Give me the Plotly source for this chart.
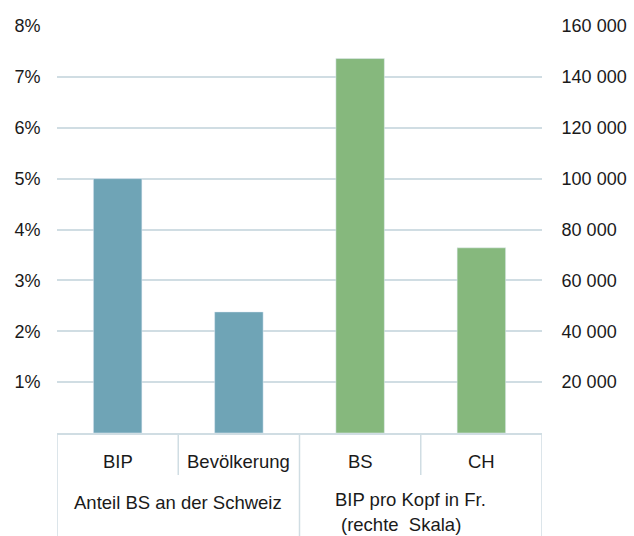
import plotly.graph_objects as go

categories = ["BIP", "Bevölkerung", "BS", "CH"]
share_cats = ["BIP", "Bevölkerung"]
share_vals = [5.0, 2.38]            # Anteil BS an der Schweiz, %
gdp_cats = ["BS", "CH"]
gdp_vals = [147200, 72800]          # BIP pro Kopf in Fr.
left_ticks = [1, 2, 3, 4, 5, 6, 7, 8]
left_text = [f"{v}%" for v in left_ticks]
right_ticks = [20000, 40000, 60000, 80000, 100000, 120000, 140000, 160000]
right_text = [f"{v:,}".replace(",", " ") for v in right_ticks]
group_labels = ["Anteil BS an der Schweiz", "BIP pro Kopf in Fr.", "(rechte  Skala)"]

FONT = "Liberation Sans, Arial, sans-serif"
LINE = "#d0dde3"
TXT = "#1a1a1a"

fig = go.Figure()
fig.add_trace(go.Bar(x=share_cats, y=share_vals, marker_color="#6fa4b6",
                     width=0.4, yaxis="y", showlegend=False))
fig.add_trace(go.Bar(x=gdp_cats, y=gdp_vals, marker_color="#86b87d",
                     width=0.4, yaxis="y2", showlegend=False))

shapes = []
for xv in [-0.5, 1.5, 3.5]:
    shapes.append(dict(type="line", xref="x", yref="paper", x0=xv, x1=xv,
                       y0=0, y1=-0.26, line=dict(color=LINE, width=1.5)))
for xv in [0.5, 2.5]:
    shapes.append(dict(type="line", xref="x", yref="paper", x0=xv, x1=xv,
                       y0=0, y1=-0.103, line=dict(color=LINE, width=1.5)))

annotations = []
for c in categories:
    annotations.append(dict(x=c, y=-0.071, xref="x", yref="paper", text=c,
                            showarrow=False, yanchor="middle",
                            font=dict(size=18.5, color=TXT, family=FONT)))
annotations.append(dict(x=0.5, y=-0.17, xref="x", yref="paper", text=group_labels[0],
                        showarrow=False, yanchor="middle",
                        font=dict(size=18.5, color=TXT, family=FONT)))
annotations.append(dict(x=2.415, y=-0.163, xref="x", yref="paper", text=group_labels[1],
                        showarrow=False, yanchor="middle",
                        font=dict(size=18.5, color=TXT, family=FONT)))
annotations.append(dict(x=2.34, y=-0.225, xref="x", yref="paper", text=group_labels[2],
                        showarrow=False, yanchor="middle",
                        font=dict(size=18.5, color=TXT, family=FONT)))

fig.update_layout(
    width=634, height=536,
    margin=dict(l=57, r=92, t=26, b=103, autoexpand=False),
    paper_bgcolor="white", plot_bgcolor="white",
    barmode="overlay",
    font=dict(family=FONT, size=18, color=TXT),
    xaxis=dict(type="category", categoryorder="array", categoryarray=categories,
               range=[-0.5, 3.5], showticklabels=False, ticks="",
               showgrid=False, showline=True, linecolor=LINE, linewidth=1.5,
               zeroline=False, automargin=False),
    yaxis=dict(range=[0, 8], tickvals=left_ticks, ticktext=left_text,
               showgrid=True, gridcolor=LINE, gridwidth=1.5, zeroline=False,
               ticks="outside", ticklen=12, tickcolor="rgba(0,0,0,0)",
               showline=False, automargin=False),
    yaxis2=dict(range=[0, 160000], tickvals=right_ticks, ticktext=right_text,
                overlaying="y", side="right", showgrid=False, zeroline=False,
                ticks="outside", ticklen=15, tickcolor="rgba(0,0,0,0)",
                showline=False, automargin=False),
    shapes=shapes,
    annotations=annotations,
)

fig.write_html("out.html")
